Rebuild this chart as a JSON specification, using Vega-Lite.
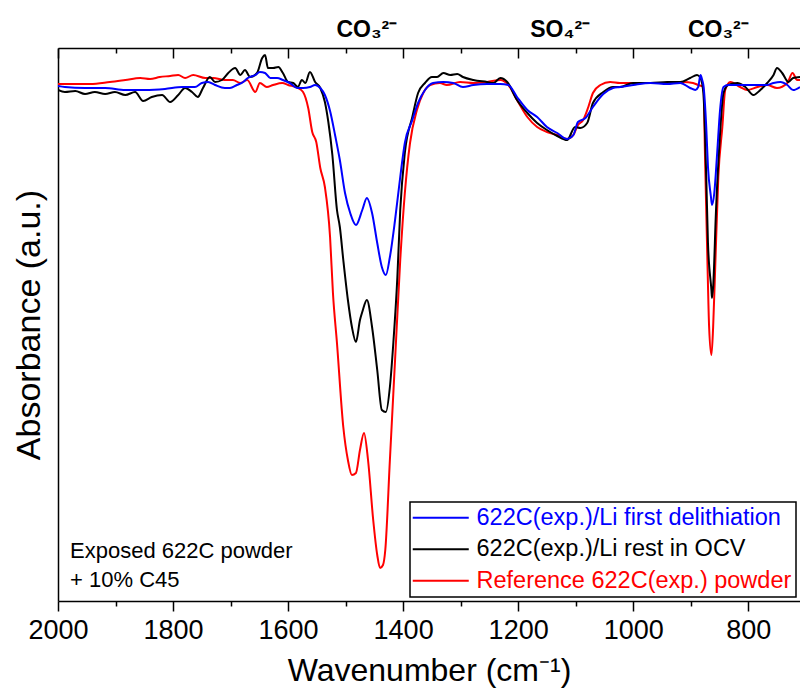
{
  "$schema": "https://vega.github.io/schema/vega-lite/v6.json",
  "width": 742,
  "height": 553,
  "autosize": {"type": "none"},
  "padding": {"left": 58, "top": 48, "right": 0, "bottom": 92},
  "background": "white",
  "config": {
    "view": {"stroke": null},
    "font": "Liberation Sans",
    "axis": {"labelFont": "Liberation Sans", "titleFont": "Liberation Sans", "titleFontWeight": "normal", "labelColor": "black", "titleColor": "black"},
    "text": {"font": "Liberation Sans"}
  },
  "resolve": {"axis": {"x": "independent"}},
  "encoding": {
    "y": {
      "field": "a", "type": "quantitative",
      "scale": {"domain": [0, 553], "nice": false, "zero": false},
      "axis": {"title": "Absorbance (a.u.)", "ticks": false, "labels": false, "grid": false, "domainColor": "black", "domainWidth": 1.5, "titleFontSize": 34, "titlePadding": 12}
    }
  },
  "layer": [
    {
      "data": {"values": [
        {"w":2000,"a":517},{"w":1970,"a":517},{"w":1944,"a":517},{"w":1910,"a":519},{"w":1883,"a":521},{"w":1857,"a":523},{"w":1840,"a":522},{"w":1823,"a":524},{"w":1805,"a":525},{"w":1791,"a":526},{"w":1779,"a":523},{"w":1765,"a":526},{"w":1744,"a":523},{"w":1730,"a":523},{"w":1710,"a":521},{"w":1696,"a":521},{"w":1683,"a":518},{"w":1671,"a":521},{"w":1657,"a":509},{"w":1649,"a":518},{"w":1637,"a":514},{"w":1626,"a":516},{"w":1610,"a":518},{"w":1600,"a":516},{"w":1583,"a":513},{"w":1574,"a":509},{"w":1565,"a":493},{"w":1558,"a":469},{"w":1551,"a":459},{"w":1544,"a":433},{"w":1536,"a":414},{"w":1527,"a":364},{"w":1522,"a":308},{"w":1515,"a":258},{"w":1504,"a":174},{"w":1496,"a":141},{"w":1489,"a":126},{"w":1482,"a":128},{"w":1475,"a":151},{"w":1468,"a":168},{"w":1461,"a":141},{"w":1452,"a":81},{"w":1445,"a":46},{"w":1440,"a":33},{"w":1435,"a":36},{"w":1431,"a":51},{"w":1423,"a":141},{"w":1414,"a":241},{"w":1405,"a":341},{"w":1397,"a":408},{"w":1388,"a":458},{"w":1376,"a":491},{"w":1365,"a":508},{"w":1353,"a":516},{"w":1336,"a":518},{"w":1324,"a":516},{"w":1301,"a":519},{"w":1278,"a":518},{"w":1254,"a":519},{"w":1231,"a":521},{"w":1217,"a":516},{"w":1202,"a":501},{"w":1184,"a":484},{"w":1167,"a":474},{"w":1150,"a":469},{"w":1132,"a":466},{"w":1115,"a":462},{"w":1104,"a":466},{"w":1096,"a":476},{"w":1087,"a":481},{"w":1078,"a":494},{"w":1070,"a":508},{"w":1057,"a":516},{"w":1040,"a":519},{"w":1023,"a":518},{"w":1000,"a":518},{"w":970,"a":518},{"w":941,"a":518},{"w":913,"a":519},{"w":896,"a":518},{"w":887,"a":516},{"w":878,"a":514},{"w":875,"a":441},{"w":871,"a":341},{"w":868,"a":274},{"w":864,"a":246},{"w":861,"a":274},{"w":857,"a":341},{"w":852,"a":424},{"w":845,"a":474},{"w":840,"a":511},{"w":831,"a":519},{"w":814,"a":514},{"w":802,"a":511},{"w":784,"a":514},{"w":767,"a":516},{"w":750,"a":513},{"w":732,"a":518},{"w":723,"a":528},{"w":715,"a":521},{"w":710,"a":521}
      ]},
      "mark": {"type": "line", "strokeWidth": 2, "clip": true, "interpolate": "monotone"},
      "encoding": {
        "x": {
          "field": "w", "type": "quantitative",
          "scale": {"domain": [2000, 710], "nice": false, "zero": false},
          "axis": {
            "orient": "bottom", "title": "Wavenumber (cm⁻¹)", "titleFontSize": 32, "titlePadding": 12,
            "values": [2000, 1900, 1800, 1700, 1600, 1500, 1400, 1300, 1200, 1100, 1000, 900, 800],
            "labelExpr": "datum.value % 200 === 0 ? format(datum.value, 'd') : ''",
            "labelFontSize": 27, "labelPadding": 6, "labelOverlap": false, "labelFlush": false, "labelBound": false,
            "grid": false, "domainColor": "black", "domainWidth": 1.5, "tickColor": "black", "tickWidth": 1.5,
            "tickSize": {"condition": {"test": "datum.value % 200 === 0", "value": 10}, "value": 5}
          }
        },
        "color": {
          "datum": "Reference 622C(exp.) powder", "type": "nominal",
          "scale": {"domain": ["622C(exp.)/Li first delithiation", "622C(exp.)/Li rest in OCV", "Reference 622C(exp.) powder"], "range": ["#0000ff", "#000000", "#ff0000"]},
          "legend": {
            "orient": "none", "legendX": 352, "legendY": 454, "title": null,
            "strokeColor": "black", "fillColor": "white", "padding": 4,
            "labelFont": "Liberation Sans", "labelFontSize": 23.5, "labelLimit": 500,
            "symbolType": "M-14,0H14", "symbolSize": 16, "symbolStrokeWidth": 2,
            "symbolOffset": 15, "labelOffset": 24, "rowPadding": 6.5,
            "encode": {
              "labels": {"update": {"fill": {"scale": "color", "field": "value"}}},
              "legend": {"update": {"strokeWidth": {"value": 1.5}}}
            }
          }
        }
      }
    },
    {
      "data": {"values": [
        {"w":2000,"a":511},{"w":1988,"a":509},{"w":1970,"a":510},{"w":1953,"a":507},{"w":1936,"a":509},{"w":1918,"a":507},{"w":1901,"a":509},{"w":1883,"a":506},{"w":1866,"a":509},{"w":1852,"a":500},{"w":1837,"a":504},{"w":1819,"a":506},{"w":1805,"a":499},{"w":1791,"a":506},{"w":1779,"a":513},{"w":1767,"a":509},{"w":1757,"a":504},{"w":1748,"a":513},{"w":1736,"a":524},{"w":1727,"a":519},{"w":1715,"a":521},{"w":1704,"a":528},{"w":1692,"a":533},{"w":1683,"a":526},{"w":1675,"a":531},{"w":1666,"a":524},{"w":1654,"a":528},{"w":1645,"a":543},{"w":1640,"a":546},{"w":1635,"a":533},{"w":1626,"a":533},{"w":1617,"a":534},{"w":1609,"a":528},{"w":1600,"a":519},{"w":1591,"a":518},{"w":1583,"a":514},{"w":1576,"a":521},{"w":1570,"a":518},{"w":1562,"a":529},{"w":1553,"a":519},{"w":1544,"a":513},{"w":1536,"a":499},{"w":1530,"a":479},{"w":1523,"a":446},{"w":1515,"a":391},{"w":1510,"a":374},{"w":1504,"a":341},{"w":1496,"a":301},{"w":1489,"a":274},{"w":1482,"a":259},{"w":1475,"a":281},{"w":1471,"a":289},{"w":1463,"a":301},{"w":1454,"a":274},{"w":1445,"a":231},{"w":1437,"a":191},{"w":1430,"a":189},{"w":1423,"a":214},{"w":1417,"a":258},{"w":1410,"a":324},{"w":1405,"a":391},{"w":1397,"a":448},{"w":1384,"a":484},{"w":1374,"a":508},{"w":1362,"a":518},{"w":1350,"a":524},{"w":1341,"a":524},{"w":1330,"a":528},{"w":1318,"a":526},{"w":1306,"a":527},{"w":1296,"a":524},{"w":1278,"a":521},{"w":1254,"a":519},{"w":1243,"a":518},{"w":1231,"a":523},{"w":1219,"a":519},{"w":1202,"a":501},{"w":1184,"a":488},{"w":1167,"a":478},{"w":1150,"a":471},{"w":1132,"a":465},{"w":1115,"a":461},{"w":1101,"a":474},{"w":1092,"a":473},{"w":1080,"a":478},{"w":1070,"a":498},{"w":1052,"a":509},{"w":1035,"a":514},{"w":1023,"a":514},{"w":1000,"a":518},{"w":970,"a":518},{"w":941,"a":519},{"w":918,"a":519},{"w":901,"a":523},{"w":889,"a":526},{"w":883,"a":523},{"w":878,"a":508},{"w":873,"a":424},{"w":870,"a":358},{"w":864,"a":311},{"w":863,"a":303},{"w":861,"a":314},{"w":856,"a":391},{"w":850,"a":458},{"w":843,"a":508},{"w":835,"a":516},{"w":819,"a":518},{"w":805,"a":514},{"w":791,"a":506},{"w":779,"a":511},{"w":767,"a":518},{"w":756,"a":526},{"w":750,"a":533},{"w":741,"a":528},{"w":730,"a":519},{"w":722,"a":523},{"w":710,"a":524}
      ]},
      "mark": {"type": "line", "strokeWidth": 2, "clip": true, "interpolate": "monotone"},
      "encoding": {
        "x": {"field": "w", "type": "quantitative", "axis": null},
        "color": {"datum": "622C(exp.)/Li rest in OCV", "type": "nominal"}
      }
    },
    {
      "data": {"values": [
        {"w":2000,"a":515},{"w":1988,"a":514},{"w":1953,"a":513},{"w":1918,"a":513},{"w":1883,"a":511},{"w":1849,"a":511},{"w":1814,"a":512},{"w":1784,"a":514},{"w":1762,"a":514},{"w":1750,"a":518},{"w":1739,"a":519},{"w":1727,"a":516},{"w":1710,"a":513},{"w":1701,"a":513},{"w":1689,"a":516},{"w":1678,"a":519},{"w":1670,"a":523},{"w":1657,"a":526},{"w":1649,"a":529},{"w":1640,"a":528},{"w":1631,"a":523},{"w":1619,"a":523},{"w":1609,"a":521},{"w":1597,"a":518},{"w":1584,"a":513},{"w":1574,"a":513},{"w":1562,"a":514},{"w":1553,"a":516},{"w":1544,"a":513},{"w":1536,"a":506},{"w":1527,"a":490},{"w":1518,"a":465},{"w":1510,"a":441},{"w":1501,"a":408},{"w":1492,"a":388},{"w":1482,"a":376},{"w":1471,"a":391},{"w":1463,"a":403},{"w":1454,"a":388},{"w":1445,"a":358},{"w":1437,"a":334},{"w":1430,"a":326},{"w":1423,"a":344},{"w":1414,"a":381},{"w":1405,"a":424},{"w":1397,"a":458},{"w":1384,"a":481},{"w":1374,"a":498},{"w":1362,"a":511},{"w":1348,"a":518},{"w":1330,"a":519},{"w":1313,"a":518},{"w":1296,"a":514},{"w":1278,"a":516},{"w":1254,"a":517},{"w":1231,"a":517},{"w":1217,"a":516},{"w":1202,"a":504},{"w":1184,"a":491},{"w":1167,"a":484},{"w":1150,"a":474},{"w":1132,"a":468},{"w":1115,"a":462},{"w":1104,"a":466},{"w":1096,"a":479},{"w":1083,"a":483},{"w":1070,"a":494},{"w":1052,"a":507},{"w":1035,"a":513},{"w":1023,"a":514},{"w":1000,"a":516},{"w":970,"a":518},{"w":941,"a":517},{"w":918,"a":518},{"w":901,"a":513},{"w":892,"a":511},{"w":887,"a":514},{"w":883,"a":526},{"w":880,"a":521},{"w":878,"a":516},{"w":873,"a":474},{"w":870,"a":434},{"w":865,"a":405},{"w":863,"a":396},{"w":859,"a":408},{"w":854,"a":448},{"w":849,"a":491},{"w":843,"a":514},{"w":835,"a":516},{"w":796,"a":516},{"w":767,"a":516},{"w":756,"a":518},{"w":744,"a":519},{"w":732,"a":516},{"w":722,"a":511},{"w":710,"a":514}
      ]},
      "mark": {"type": "line", "strokeWidth": 2, "clip": true, "interpolate": "monotone"},
      "encoding": {
        "x": {"field": "w", "type": "quantitative", "axis": null},
        "color": {"datum": "622C(exp.)/Li first delithiation", "type": "nominal"}
      }
    },
    {
      "data": {"values": [
        {"w": 1463, "a": 564, "t": "CO₃²⁻"},
        {"w": 1127, "a": 564, "t": "SO₄²⁻"},
        {"w": 852, "a": 564, "t": "CO₃²⁻"}
      ]},
      "mark": {"type": "text", "fontSize": 23, "fontWeight": "bold", "align": "center", "baseline": "alphabetic", "color": "black"},
      "encoding": {
        "x": {
          "field": "w", "type": "quantitative",
          "axis": {
            "orient": "top", "title": null, "labels": false, "grid": false,
            "values": [2000, 1900, 1800, 1700, 1600, 1500, 1400, 1300, 1200, 1100, 1000, 900, 800],
            "domainColor": "black", "domainWidth": 1.5, "tickColor": "black", "tickWidth": 1.5,
            "tickSize": {"condition": {"test": "datum.value % 200 === 0", "value": -10}, "value": -5}
          }
        },
        "text": {"field": "t"}
      }
    },
    {
      "data": {"values": [
        {"w": 1979, "a": 43, "t": "Exposed 622C powder\n+ 10% C45"}
      ]},
      "mark": {"type": "text", "fontSize": 22, "align": "left", "baseline": "alphabetic", "lineBreak": "\n", "lineHeight": 29, "color": "black"},
      "encoding": {
        "x": {"field": "w", "type": "quantitative", "axis": null},
        "text": {"field": "t"}
      }
    }
  ]
}
